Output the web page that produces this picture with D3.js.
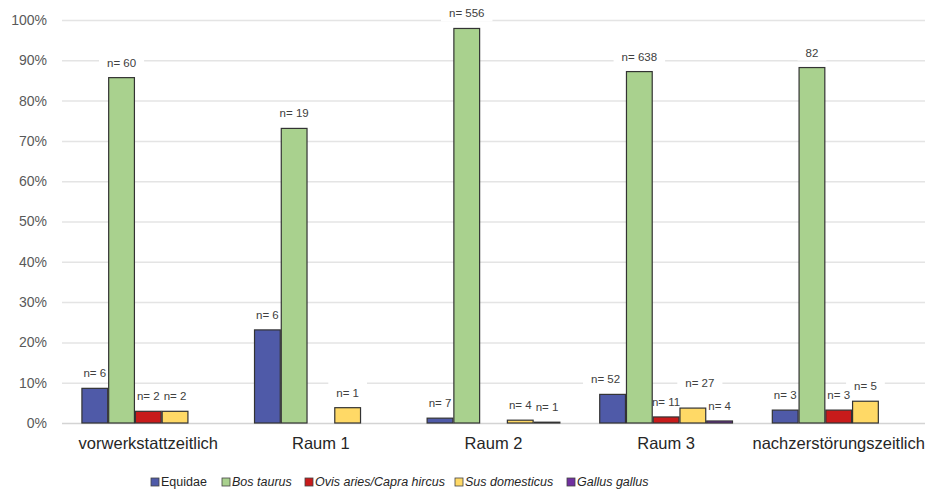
<!DOCTYPE html>
<html><head><meta charset="utf-8">
<script src="https://cdn.jsdelivr.net/npm/d3@7"></script>
<style>body{margin:0;background:#fff}svg{display:block}</style>
</head><body>
<svg id="c" width="925" height="492"></svg>
<script>
const categories = ["vorwerkstattzeitlich","Raum 1","Raum 2","Raum 3","nachzerstörungszeitlich"];
const seriesNames = ["Equidae","Bos taurus","Ovis aries/Capra hircus","Sus domesticus","Gallus gallus"];
const italicSeries = [false,true,true,true,true];
const colors = ["#4f5aa8","#a9d18e","#c81b1b","#ffd966","#7030a0"];
// percentages per series, in category order
const equidae = [8.6, 23.1, 1.2, 7.1, 3.2];
const bos     = [85.7, 73.1, 97.9, 87.2, 88.2];
const ovis    = [2.9, 0, 0, 1.5, 3.2];
const sus     = [2.9, 3.8, 0.7, 3.7, 5.4];
const gallus  = [0, 0, 0.2, 0.5, 0];
// data labels (n counts), "" = none
const lblEquidae = ["n= 6","n= 6","n= 7","n= 52","n= 3"];
const lblBos     = ["n= 60","n= 19","n= 556","n= 638","82"];
const lblOvis    = ["n= 2","","","n= 11","n= 3"];
const lblSus     = ["n= 2","n= 1","n= 4","n= 27","n= 5"];
const lblGallus  = ["","","n= 1","n= 4",""];
const yTicks = [0,10,20,30,40,50,60,70,80,90,100];

const values = [equidae,bos,ovis,sus,gallus];
const labels = [lblEquidae,lblBos,lblOvis,lblSus,lblGallus];

const svg = d3.select("#c");
const mLeft = 62, mRight = 925, mTop = 20, mBottom = 423;
const font = "'Liberation Sans',Arial,sans-serif";

const x0 = d3.scaleBand().domain(categories).range([mLeft,mRight]).paddingInner(0.225).paddingOuter(0.1125);
const x1 = d3.scaleBand().domain(seriesNames).range([0,x0.bandwidth()]);
const y = d3.scaleLinear().domain([0,100]).range([mBottom,mTop]);

// gridlines
svg.append("g").selectAll("line").data(yTicks).join("line")
  .attr("x1",mLeft).attr("x2",mRight)
  .attr("y1",d=>y(d)+0.5).attr("y2",d=>y(d)+0.5)
  .attr("stroke",d=>d===0?"#d4d4d4":"#e4e4e4").attr("stroke-width",1.5);

// y axis labels
const yAxis = d3.axisLeft(y).tickValues(yTicks).tickFormat(d=>d+"%").tickSize(0).tickPadding(15);
const ya = svg.append("g").attr("transform",`translate(${mLeft},0)`).call(yAxis);
ya.select(".domain").remove();
ya.selectAll("text").attr("font-family",font).attr("font-size",14).attr("fill","#595959");

// x axis labels
const xAxis = d3.axisBottom(x0).tickSize(0).tickPadding(14);
const xa = svg.append("g").attr("transform",`translate(0,${mBottom})`).call(xAxis);
xa.select(".domain").remove();
xa.selectAll("text").attr("font-family",font).attr("font-size",16.5).attr("fill","#262626");

// label data with positions derived from scales
const all = [];
categories.forEach((c,ci)=>seriesNames.forEach((s,si)=>{
  all.push({c,ci,s,si,v:values[si][ci],l:labels[si][ci]});
}));
const labelPos = d=>{
  let off = 15, dx = 0;
  if (d.c==="Raum 3" && d.s==="Sus domesticus") { off = 25; dx = 7; }
  if (d.c==="Raum 3" && d.s==="Equidae") { dx = -7; }
  return [x0(d.c)+x1(d.s)+x1.bandwidth()/2+dx, y(d.v)-off];
};
const withLabel = all.filter(d=>d.l!=="");

// label backgrounds (mask gridlines)
const bgLayer = svg.append("g");
const barLayer = svg.append("g");
const txtLayer = svg.append("g");

barLayer.selectAll("rect").data(all.filter(d=>d.v>0)).join("rect")
  .attr("x",d=>x0(d.c)+x1(d.s)+0.5).attr("width",x1.bandwidth()-1)
  .attr("y",d=>y(d.v)).attr("height",d=>mBottom-y(d.v))
  .attr("fill",d=>colors[d.si]).attr("stroke","#333").attr("stroke-width",1.2);

const texts = txtLayer.selectAll("text").data(withLabel).join("text")
  .attr("x",d=>labelPos(d)[0]).attr("y",d=>labelPos(d)[1])
  .attr("text-anchor","middle").attr("dy","0.35em")
  .attr("font-family",font).attr("font-size",11.5).attr("fill","#404040")
  .text(d=>d.l);
texts.each(function(d){
  const b = this.getBBox();
  const [cx,cy] = labelPos(d);
  bgLayer.append("rect").attr("x",b.x-8).attr("y",cy-11)
    .attr("width",b.width+16).attr("height",19).attr("fill","#fff");
});

// legend
const legX = [151,222,305,455,567];
const leg = svg.append("g").selectAll("g").data(seriesNames).join("g")
  .attr("transform",(d,i)=>`translate(${legX[i]},482)`);
leg.append("rect").attr("x",0).attr("y",-4).attr("width",8).attr("height",8)
  .attr("fill",(d,i)=>colors[i]).attr("stroke","#444").attr("stroke-width",0.8);
leg.append("text").attr("x",10).attr("dy","0.35em")
  .attr("font-family",font).attr("font-size",12.5).attr("fill","#262626")
  .attr("font-style",(d,i)=>italicSeries[i]?"italic":"normal")
  .text(d=>d);
</script>
</body></html>
